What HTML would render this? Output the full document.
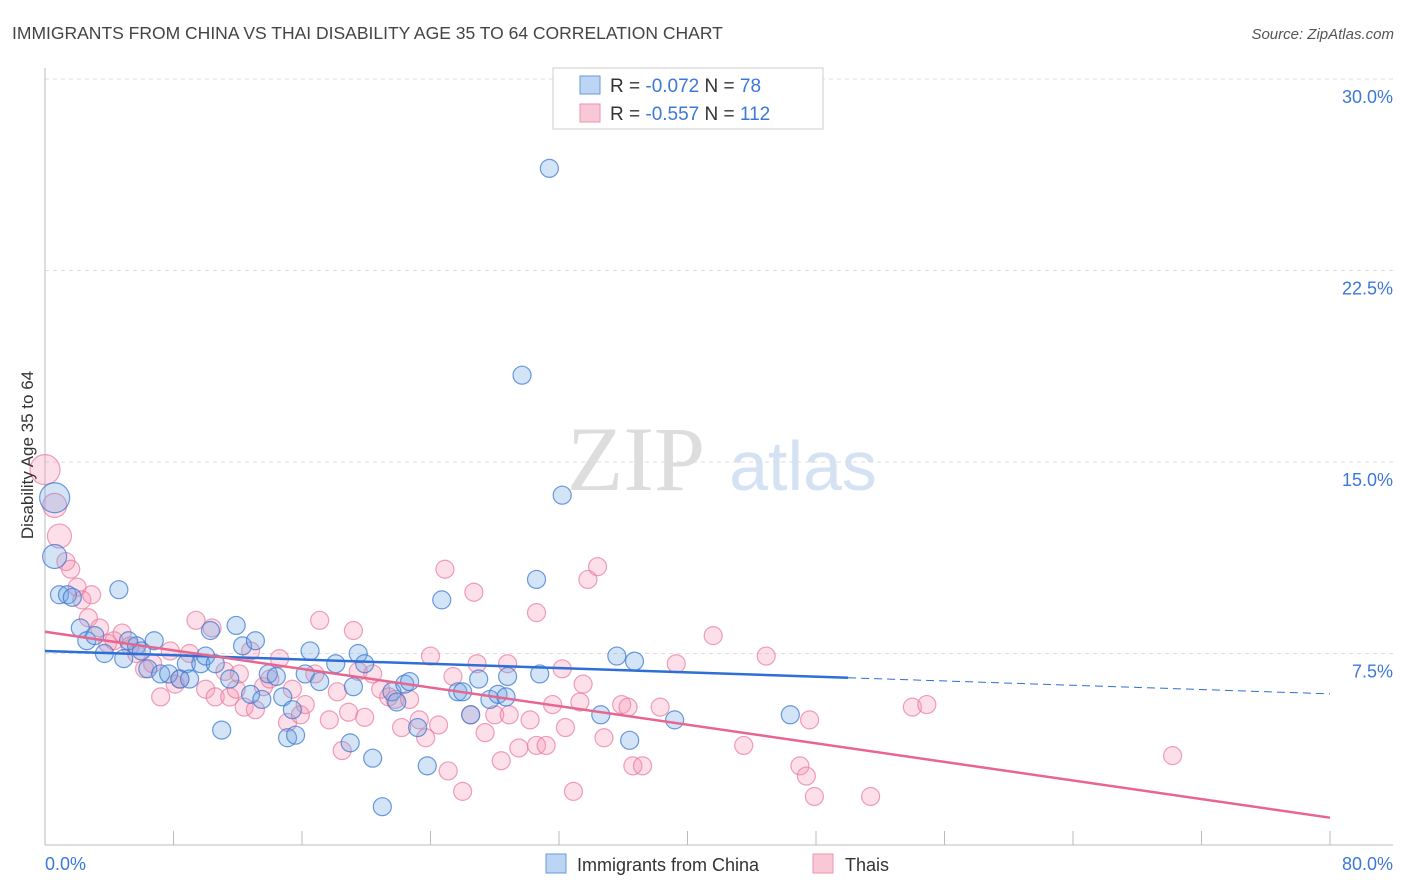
<!DOCTYPE html>
<html><head><meta charset="utf-8"><style>
body{margin:0;background:#fff;font-family:"Liberation Sans",sans-serif;}
svg{display:block}
</style></head><body>
<svg id="chart" width="1406" height="892" xmlns="http://www.w3.org/2000/svg">
<text x="12" y="39" font-size="17.5" fill="#444">IMMIGRANTS FROM CHINA VS THAI DISABILITY AGE 35 TO 64 CORRELATION CHART</text>
<text x="1394" y="39" font-size="15" fill="#555" font-style="italic" text-anchor="end">Source: ZipAtlas.com</text>
<g>
<text x="636" y="490" font-family="Liberation Serif,serif" font-size="92" fill="#ddd" text-anchor="middle">ZIP</text>
<text x="803" y="490" font-size="70" fill="#d4e2f4" text-anchor="middle">atlas</text>
</g>
<g id="grid"></g><g id="axes"></g><g id="pts"></g><g id="lines"></g>
<text transform="translate(33,455) rotate(-90)" font-size="17" fill="#333" text-anchor="middle">Disability Age 35 to 64</text>
<g>
<rect x="553" y="68" width="270" height="61" fill="#fff" stroke="#ccc"/>
<rect x="580" y="76" width="20" height="18" fill="#bcd5f4" stroke="#6a9ad8"/>
<rect x="580" y="104" width="20" height="18" fill="#f9c8d6" stroke="#ec93ad"/>
<text x="610" y="92" font-size="19" fill="#333">R = <tspan fill="#3c78d8">-0.072</tspan>   N = <tspan fill="#3c78d8"> 78</tspan></text>
<text x="610" y="120" font-size="19" fill="#333">R = <tspan fill="#3c78d8">-0.557</tspan>   N = <tspan fill="#3c78d8">112</tspan></text>
</g>
<g>
<rect x="546" y="854" width="20" height="19" fill="#bcd5f4" stroke="#6a9ad8"/>
<text x="577" y="871" font-size="18" fill="#333">Immigrants from China</text>
<rect x="813" y="854" width="20" height="19" fill="#f9c8d6" stroke="#ec93ad"/>
<text x="845" y="871" font-size="18" fill="#333">Thais</text>
</g>
</svg>
<script>
const yTicks=[7.5,15,22.5,30];
const yTickLabels=["7.5%","15.0%","22.5%","30.0%"];
const xTickVals=[0,8,16,24,32,40,48,56,64,72,80];
const blueX=[0.6,0.6,0.9,1.4,1.7,2.2,2.6,3.1,3.7,4.6,4.9,5.2,5.7,6.0,6.4,6.8,7.2,7.7,8.4,8.8,9.0,9.7,10.0,10.3,10.6,11.0,11.5,11.9,12.3,13.1,12.8,13.5,13.9,14.4,14.8,15.1,15.6,15.4,16.2,16.5,17.1,18.1,19.0,19.2,19.5,19.9,20.4,21.0,21.6,21.9,22.4,22.7,23.2,23.8,24.7,25.7,26.0,26.5,27.0,27.7,28.2,28.7,28.8,29.7,30.6,30.8,31.4,32.2,34.6,35.6,36.4,36.7,39.2,46.4];
const blueY=[13.6,11.3,9.8,9.8,9.7,8.5,8.0,8.2,7.5,10.0,7.3,8.0,7.8,7.6,6.9,8.0,6.7,6.7,6.5,7.1,6.5,7.1,7.4,8.4,7.1,4.5,6.5,8.6,7.8,8.0,5.9,5.7,6.7,6.6,5.8,4.2,4.3,5.3,6.7,7.6,6.4,7.1,4.0,6.2,7.5,7.1,3.4,1.5,6.0,5.6,6.3,6.4,4.6,3.1,9.6,6.0,6.0,5.1,6.5,5.7,5.9,5.8,6.6,18.4,10.4,6.7,26.5,13.7,5.1,7.4,4.1,7.2,4.9,5.1];
const pinkX=[0.0,0.6,0.9,1.3,1.6,2.0,2.3,2.9,2.7,3.4,3.9,4.3,4.8,5.3,5.7,6.2,6.7,7.2,7.8,8.1,8.4,9.0,9.4,10.0,10.4,10.6,11.2,11.5,11.9,12.1,12.4,12.8,13.1,13.6,14.0,14.6,15.1,15.4,15.9,16.2,16.8,17.1,17.7,18.2,18.5,18.9,19.2,19.5,19.9,20.4,20.9,21.4,21.8,22.2,22.7,23.3,23.7,24.0,24.5,24.9,25.1,25.4,26.0,26.5,26.7,26.9,27.4,28.0,28.4,28.8,28.9,29.5,30.2,30.6,30.6,31.2,31.6,32.2,32.4,32.9,33.3,33.5,33.8,34.4,34.8,35.9,36.3,36.6,37.2,38.3,39.3,41.6,43.5,44.9,47.0,47.4,47.6,47.9,51.4,54.0,54.9,70.2];
const pinkY=[14.7,13.3,12.1,11.1,10.8,10.1,9.6,9.8,8.9,8.5,7.9,8.0,8.3,7.8,7.5,6.9,7.1,5.8,7.6,6.3,6.5,7.5,8.8,6.1,8.5,5.8,6.8,5.8,6.1,6.7,5.4,7.6,5.3,6.2,6.5,7.3,4.8,6.1,5.1,5.5,6.7,8.8,4.9,6.0,3.7,5.2,8.4,6.8,5.0,6.7,6.1,5.8,5.7,4.6,5.7,4.9,4.2,7.4,4.7,10.8,2.9,6.6,2.1,5.1,9.9,7.1,4.4,5.1,3.3,7.1,5.1,3.8,4.9,9.1,3.9,3.9,5.5,6.9,4.6,2.1,5.6,6.3,10.4,10.9,4.2,5.5,5.4,3.1,3.1,5.4,7.1,8.2,3.9,7.4,3.1,2.7,4.9,1.9,1.9,5.4,5.5,3.5];
const blueFit=[7.6,-0.021]; // intercept, slope
const pinkFit=[8.35,-0.091];
const NS="http://www.w3.org/2000/svg";
const L=45,R=1330,T=79,B=845;
const sx=v=>L+v/80*(R-L);
const sy=v=>B-v/30*(B-T);
function mk(tag,attrs,parent){const e=document.createElementNS(NS,tag);for(const k in attrs)e.setAttribute(k,attrs[k]);parent.appendChild(e);return e;}
const grid=document.getElementById('grid'),axes=document.getElementById('axes'),pts=document.getElementById('pts'),lines=document.getElementById('lines');
yTicks.forEach((v,i)=>{
 const g=mk('line',{x1:L,x2:1393,y1:sy(v),y2:sy(v),stroke:'#ddd','stroke-dasharray':'4,4'},grid);
 
 
 const t=mk('text',{x:1393,y:sy(v)+24,'font-size':18,fill:'#3c78d8','text-anchor':'end'},axes);
 t.textContent=yTickLabels[i];
 
 
});
const ya=mk('line',{x1:L,x2:L,y1:68,y2:B,stroke:'#bbb'},axes);


const xa=mk('line',{x1:L,x2:1393,y1:B,y2:B,stroke:'#bbb'},axes);


xTickVals.forEach(v=>{
 const t=mk('line',{x1:sx(v),x2:sx(v),y1:B,y2:B-14,stroke:'#bbb'},axes);
 
 
});
const x0=mk('text',{x:45,y:870,'font-size':18,fill:'#3c78d8'},axes);x0.textContent='0.0%';


const x1=mk('text',{x:1393,y:870,'font-size':18,fill:'#3c78d8','text-anchor':'end'},axes);x1.textContent='80.0%';


function dots(X,Y,fill,stroke,name){
 X.forEach((x,i)=>{
  const r=(i<2&&name==='china-point')||(i<3&&name==='thai-point')?(i===0?15:12):9;
  const c=mk('circle',{cx:sx(x),cy:sy(Y[i]),r:r,fill:fill,stroke:stroke,'stroke-width':1.2},pts);
  
  
 });
}
dots(pinkX,pinkY,'rgba(244,150,178,0.3)','rgba(232,120,155,0.7)','thai-point');
dots(blueX,blueY,'rgba(110,165,230,0.3)','rgba(60,120,210,0.75)','china-point');
const b1=mk('line',{x1:sx(0),y1:sy(blueFit[0]),x2:sx(50),y2:sy(blueFit[0]+blueFit[1]*50),stroke:'#2d6fd6','stroke-width':2.5},lines);


const b2=mk('line',{x1:sx(50),y1:sy(blueFit[0]+blueFit[1]*50),x2:sx(80),y2:sy(blueFit[0]+blueFit[1]*80),stroke:'#2d6fd6','stroke-width':1,'stroke-dasharray':'8,5'},lines);


const p1=mk('line',{x1:sx(0),y1:sy(pinkFit[0]),x2:sx(80),y2:sy(pinkFit[0]+pinkFit[1]*80),stroke:'#e8658f','stroke-width':2.5},lines);


</script>
</body></html>
